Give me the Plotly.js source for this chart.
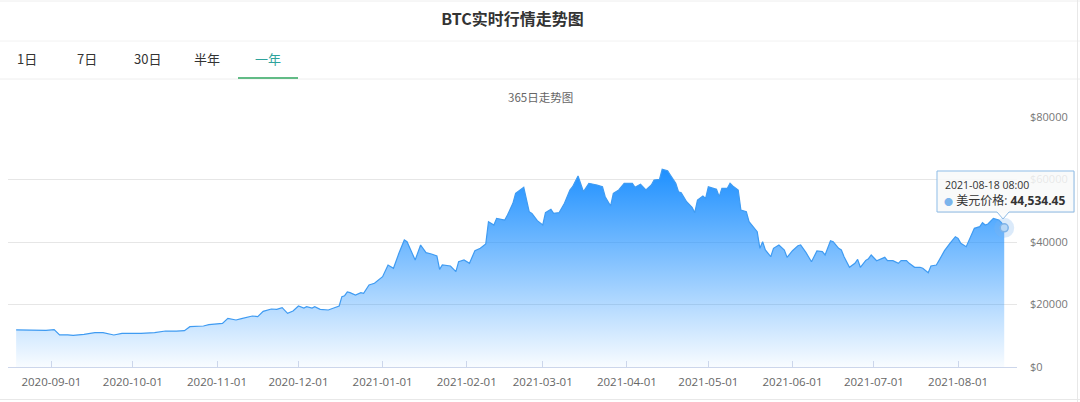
<!DOCTYPE html>
<html>
<head>
<meta charset="utf-8">
<script src="https://cdn.plot.ly/plotly-3.0.1.min.js"></script>
<style>
html,body{margin:0;padding:0;background:#fff;}
#chart{width:1080px;height:402px;}
</style>
</head>
<body>
<div id="chart"></div>
<script>
// ---- data ----
const dates = [
'2020-08-19','2020-08-23','2020-08-27','2020-08-30','2020-09-02','2020-09-04','2020-09-07','2020-09-09','2020-09-13','2020-09-17',
'2020-09-20','2020-09-22','2020-09-24','2020-09-27','2020-10-01','2020-10-04','2020-10-09','2020-10-13','2020-10-17','2020-10-20',
'2020-10-22','2020-10-27','2020-10-29','2020-11-03','2020-11-05','2020-11-08','2020-11-10','2020-11-12','2020-11-14','2020-11-16',
'2020-11-18','2020-11-21','2020-11-23','2020-11-25','2020-11-27','2020-11-29','2020-12-01','2020-12-03','2020-12-04','2020-12-06',
'2020-12-07','2020-12-09','2020-12-12','2020-12-14','2020-12-16','2020-12-17','2020-12-18','2020-12-19','2020-12-20','2020-12-22',
'2020-12-24','2020-12-25','2020-12-27','2020-12-29','2021-01-01','2021-01-03','2021-01-05','2021-01-07','2021-01-09','2021-01-10',
'2021-01-11','2021-01-13','2021-01-15','2021-01-17','2021-01-19','2021-01-21','2021-01-22','2021-01-23','2021-01-26','2021-01-28',
'2021-01-29','2021-01-31','2021-02-02','2021-02-04','2021-02-06','2021-02-08','2021-02-09','2021-02-11','2021-02-12','2021-02-15',
'2021-02-16','2021-02-18','2021-02-19','2021-02-22','2021-02-24','2021-02-25','2021-02-27','2021-03-01','2021-03-02','2021-03-04',
'2021-03-05','2021-03-07','2021-03-09','2021-03-10','2021-03-11','2021-03-12','2021-03-14','2021-03-16','2021-03-18','2021-03-21',
'2021-03-23','2021-03-24','2021-03-26','2021-03-27','2021-03-29','2021-03-31','2021-04-03','2021-04-04','2021-04-06','2021-04-08',
'2021-04-10','2021-04-11','2021-04-13','2021-04-14','2021-04-16','2021-04-17','2021-04-19','2021-04-20','2021-04-21','2021-04-23',
'2021-04-25','2021-04-26','2021-04-27','2021-04-29','2021-04-30','2021-05-01','2021-05-03','2021-05-04','2021-05-05','2021-05-06',
'2021-05-08','2021-05-09','2021-05-10','2021-05-12','2021-05-13','2021-05-15','2021-05-16','2021-05-18','2021-05-19','2021-05-20',
'2021-05-21','2021-05-22','2021-05-24','2021-05-25','2021-05-27','2021-05-29','2021-05-30','2021-06-01','2021-06-03','2021-06-04',
'2021-06-06','2021-06-08','2021-06-10','2021-06-12','2021-06-13','2021-06-15','2021-06-16','2021-06-18','2021-06-19','2021-06-20',
'2021-06-22','2021-06-24','2021-06-25','2021-06-26','2021-06-28','2021-06-29','2021-06-30','2021-07-02','2021-07-05','2021-07-06',
'2021-07-08','2021-07-10','2021-07-11','2021-07-13','2021-07-14','2021-07-16','2021-07-18','2021-07-19','2021-07-21','2021-07-22',
'2021-07-24','2021-07-25','2021-07-27','2021-07-29','2021-07-31','2021-08-01','2021-08-02','2021-08-04','2021-08-05','2021-08-07',
'2021-08-09','2021-08-10','2021-08-11','2021-08-12','2021-08-14','2021-08-16','2021-08-17','2021-08-18'
];
const prices = [
11900,11800,11650,11750,11950,10250,10300,10130,10450,10990,
10990,10600,10240,10770,10700,10770,10990,11520,11500,11630,
12900,13120,13540,13970,15580,15040,15470,15790,16320,16110,
17810,18560,18450,18980,17170,17920,19520,18880,19310,18880,
19310,18450,18240,18880,19520,22500,22820,24000,23780,23040,
23780,23600,26240,26780,28900,32640,31580,36380,40640,40100,
37970,34240,39040,36580,36160,35520,31260,32640,32320,30500,
33700,34240,33170,37220,37970,39360,46500,45440,47570,47040,
48640,52370,55570,57490,49700,49170,46820,45440,49380,50450,
49170,49380,52370,54500,56640,57700,61120,56100,58780,58240,
57700,54500,51520,55570,56640,58780,58780,57500,58450,56640,
58240,59840,60050,63250,62830,61440,58780,56100,55780,52900,
51100,49380,53440,54720,53970,57700,57170,56850,54500,57170,
57170,58780,57920,56640,50240,49700,46500,44370,43300,37970,
40100,37440,35300,37970,39040,37440,35090,37220,38820,39040,
36580,33700,37120,36900,35840,40420,40100,37970,37440,35300,
31900,33170,34450,31900,34130,34660,35840,34020,35090,34020,
34020,33170,34020,34020,33170,31900,31900,31580,30190,32320,
32640,34130,37220,39570,41700,41170,39570,38500,40640,44370,
44900,46180,45440,45760,47570,47040,46180,44534.45
];
const tickDates = ['2020-09-01','2020-10-01','2020-11-01','2020-12-01','2021-01-01','2021-02-01',
  '2021-03-01','2021-04-01','2021-05-01','2021-06-01','2021-07-01','2021-08-01'];
const tickLabels = ['2020-09-01','2020-10-01','2020-11-01','2020-12-01','2021-01-01','2021-02-01',
  '2021-03-01','2021-04-01','2021-05-01','2021-06-01','2021-07-01','2021-08-01'];
const yTicks = [0, 20000, 40000, 60000, 80000];
const yTickLabels = ['$0', '$20000', '$40000', '$60000', '$80000'];
const tabLabels = ['1日', '7日', '30日', '半年', '一年'];
const activeTab = '一年';
const chartTitle = 'BTC实时行情走势图';
const subTitle = '365日走势图';
const seriesName = '美元价格';
const tooltipHeader = '2021-08-18 08:00';

// ---- layout helpers (pixel -> paper) ----
const W = 1080, H = 402;
const M = {l: 8, r: 63, t: 117, b: 35};
const PW = W - M.l - M.r, PH = H - M.t - M.b;
const X = px => (px - M.l) / PW;
const Y = py => (H - M.b - py) / PH;

const FONT = '"Open Sans", "Noto Sans CJK SC", sans-serif';
const CJK = '"Noto Sans CJK SC", "Open Sans", sans-serif';

const lastDate = dates[dates.length - 1];
const lastPrice = prices[prices.length - 1];
const lastStr = lastPrice.toLocaleString('en-US', {minimumFractionDigits: 2, maximumFractionDigits: 2});

const area = {
  type: 'scatter', mode: 'lines', x: dates, y: prices,
  line: {color: '#3f9bf2', width: 1.2},
  fill: 'tozeroy',
  fillgradient: {type: 'vertical', start: 0, stop: Math.max(...prices),
    colorscale: [[0, 'rgba(30,144,255,0.03)'], [1, 'rgba(30,144,255,1)']]},
  hoverinfo: 'skip', showlegend: false
};
const halo = {
  type: 'scatter', mode: 'markers', x: [lastDate], y: [lastPrice],
  marker: {size: 20, color: 'rgba(124,181,236,0.28)', line: {width: 0}},
  hoverinfo: 'skip', showlegend: false, cliponaxis: false
};
const dot = {
  type: 'scatter', mode: 'markers', x: [lastDate], y: [lastPrice],
  marker: {size: 8, color: '#b7d7f6', line: {color: '#7fb3e8', width: 1.5}},
  hoverinfo: 'skip', showlegend: false, cliponaxis: false
};

// tooltip box (callout) geometry in pixels
const tb = {l: 937, r: 1074, t: 171, b: 212, tipX: 1003, tipY: 219};
const tipPath = `M ${X(tb.l)} ${Y(tb.t)} L ${X(tb.r)} ${Y(tb.t)} L ${X(tb.r)} ${Y(tb.b)} L ${X(tb.tipX + 6)} ${Y(tb.b)} ` +
  `L ${X(tb.tipX)} ${Y(tb.tipY)} L ${X(tb.tipX - 6)} ${Y(tb.b)} L ${X(tb.l)} ${Y(tb.b)} Z`;
const shadowPath = `M ${X(tb.l + 1)} ${Y(tb.t + 1)} L ${X(tb.r + 1)} ${Y(tb.t + 1)} L ${X(tb.r + 1)} ${Y(tb.b + 1)} L ${X(tb.l + 1)} ${Y(tb.b + 1)} Z`;

const hline = (py, x0, x1, color, w) => ({type: 'line', xref: 'paper', yref: 'paper',
  x0: X(x0), x1: X(x1), y0: Y(py), y1: Y(py), line: {color: color, width: w}, layer: 'above'});

const shapes = [
  hline(1, 0, 1080, '#eeeeee', 1),
  hline(41, 0, 1080, '#f2f2f2', 1),
  hline(79, 0, 1080, '#eeeeee', 1),
  hline(78, 238, 298, '#62bb86', 2),
  hline(399.5, 0, 1080, '#e8e8e8', 1),
  {type: 'line', xref: 'paper', yref: 'paper', x0: X(1077.5), x1: X(1077.5), y0: Y(0), y1: Y(402),
    line: {color: '#e8e8e8', width: 1}},
  {type: 'path', xref: 'paper', yref: 'paper', path: shadowPath, fillcolor: 'rgba(0,0,0,0.05)',
    line: {width: 0}, layer: 'above'},
  {type: 'path', xref: 'paper', yref: 'paper', path: tipPath, fillcolor: 'rgba(250,251,252,0.86)',
    line: {color: '#8dbbe6', width: 1}, layer: 'above'}
];

const tabX = [27, 87, 147, 207, 268];
const annotations = tabLabels.map((t, i) => ({
  text: t, xref: 'paper', yref: 'paper', x: X(tabX[i]), y: Y(58), xanchor: 'center', yanchor: 'middle',
  showarrow: false, font: {family: CJK, size: 13, color: t === activeTab ? '#2fa39c' : '#333333'}
}));
annotations.push({text: subTitle, xref: 'paper', yref: 'paper', x: X(540), y: Y(97),
  xanchor: 'center', yanchor: 'middle', showarrow: false,
  font: {family: CJK, size: 11.5, color: '#666666'}});
annotations.push({text: tooltipHeader, xref: 'paper', yref: 'paper', x: X(943), y: Y(185),
  xanchor: 'left', yanchor: 'middle', showarrow: false,
  font: {family: FONT, size: 10.5, color: '#333333'}});
annotations.push({text: '<span style="color:#7cb5ec;font-size:9px">●</span> ' + seriesName + ': <b>' + lastStr + '</b>',
  xref: 'paper', yref: 'paper', x: X(942), y: Y(200),
  xanchor: 'left', yanchor: 'middle', showarrow: false,
  font: {family: FONT, size: 12, color: '#333333'}});

const layout = {
  width: W, height: H, autosize: false,
  margin: M,
  paper_bgcolor: '#ffffff', plot_bgcolor: '#ffffff',
  title: {text: '<b>' + chartTitle + '</b>', x: 0.5, xref: 'paper', xanchor: 'center',
    y: 1 - 19 / H, yref: 'container', yanchor: 'middle',
    font: {family: CJK, size: 16, color: '#333333'}},
  xaxis: {
    type: 'date', range: ['2020-08-16', '2021-08-22 17:00'],
    tickmode: 'array', tickvals: tickDates, ticktext: tickLabels,
    ticks: 'inside', ticklen: 6, tickcolor: '#ccd6eb', tickwidth: 1,
    showline: true, linecolor: '#ccd6eb', linewidth: 1,
    showgrid: false, zeroline: false, fixedrange: true,
    ticklabelstandoff: 4,
    tickfont: {family: FONT, size: 11.5, color: '#666666'}
  },
  yaxis: {
    range: [0, 80000], side: 'right', tickmode: 'array', tickvals: yTicks, ticktext: yTickLabels,
    showgrid: true, gridcolor: '#e6e6e6', gridwidth: 1,
    zeroline: false, showline: false, ticks: '', fixedrange: true,
    ticklabelstandoff: 12,
    tickfont: {family: FONT, size: 11, color: '#777777'}
  },
  shapes: shapes,
  annotations: annotations,
  showlegend: false,
  hovermode: false
};

Plotly.newPlot('chart', [area, halo, dot], layout, {displayModeBar: false, staticPlot: true});
</script>
</body>
</html>
